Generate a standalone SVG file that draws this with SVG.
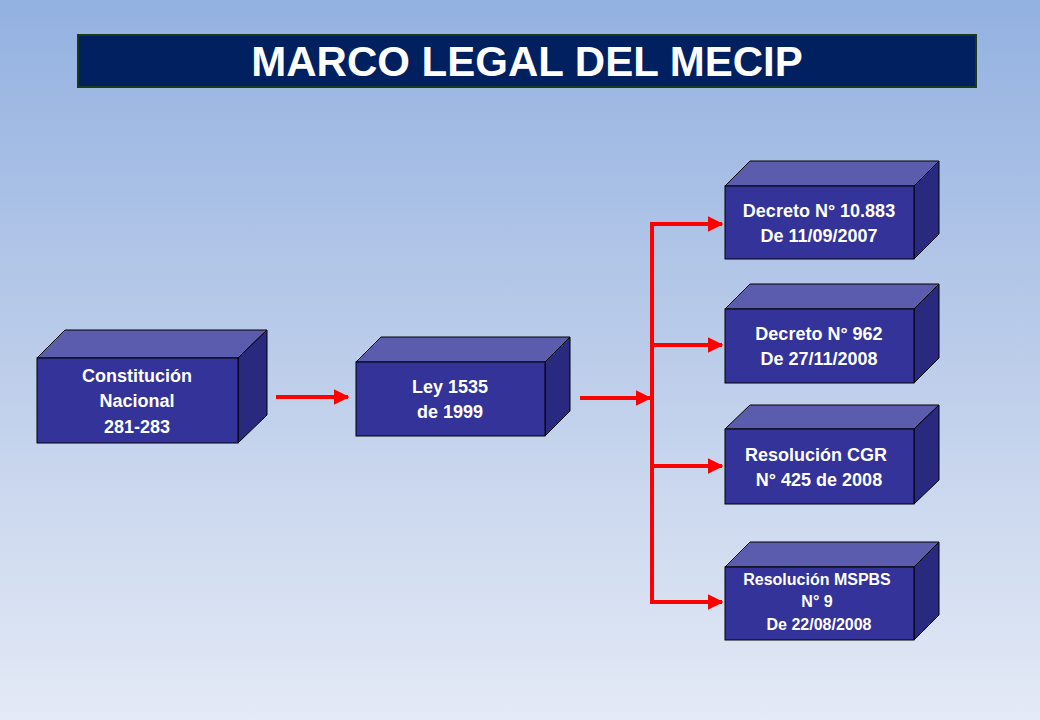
<svg xmlns="http://www.w3.org/2000/svg" width="1040" height="720" viewBox="0 0 1040 720">
<defs>
<linearGradient id="bg" x1="0" y1="0" x2="0" y2="1">
<stop offset="0" stop-color="#93b1e1"/><stop offset="0.5" stop-color="#bccdea"/><stop offset="1" stop-color="#e4eaf6"/>
</linearGradient>
<marker id="ah" viewBox="0 0 10 10" refX="9" refY="5" markerWidth="4" markerHeight="4" orient="auto" markerUnits="strokeWidth">
<path d="M0,0 L10,5 L0,10 Z" fill="#ff0000"/>
</marker>
<style>
.front{fill:#333399;stroke:#000;stroke-width:1}
.top{fill:#5c5cae;stroke:#000;stroke-width:1}
.side{fill:#292980;stroke:#000;stroke-width:1}
.t{font-family:"Liberation Sans",Arial,sans-serif;font-weight:bold;fill:#fff;text-anchor:middle;font-size:18px}
.c{stroke:#ff0000;stroke-width:4;fill:none}
</style>
</defs>
<rect width="1040" height="720" fill="url(#bg)"/>
<g id="title">
<rect x="78" y="35" width="898" height="52" fill="#002060" stroke="#1a3a1a" stroke-width="2"/>
<text x="527" y="76" class="t" font-size="42" style="font-size:42px">MARCO LEGAL DEL MECIP</text>
</g>
<g id="constitucion">
<polygon class="top" points="37,358 65,330 267,330 238,358"/>
<polygon class="side" points="238,358 267,330 267,415 238,443"/>
<rect class="front" x="37" y="358" width="201" height="85"/>
<text class="t" x="137" y="382">Constitución</text>
<text class="t" x="137" y="407">Nacional</text>
<text class="t" x="137" y="433">281-283</text>
</g>
<g id="ley">
<polygon class="top" points="356,362 381,337 570,337 545,362"/>
<polygon class="side" points="545,362 570,337 570,411 545,436"/>
<rect class="front" x="356" y="362" width="189" height="74"/>
<text class="t" x="450" y="393">Ley 1535</text>
<text class="t" x="450" y="418">de 1999</text>
</g>
<g id="decreto10883">
<polygon class="top" points="725,186 750,161 939,161 914,186"/>
<polygon class="side" points="914,186 939,161 939,234 914,259"/>
<rect class="front" x="725" y="186" width="189" height="73"/>
<text class="t" x="819" y="217">Decreto N° 10.883</text>
<text class="t" x="819" y="242">De 11/09/2007</text>
</g>
<g id="decreto962">
<polygon class="top" points="725,309 750,284 939,284 914,309"/>
<polygon class="side" points="914,309 939,284 939,358 914,383"/>
<rect class="front" x="725" y="309" width="189" height="74"/>
<text class="t" x="819" y="340">Decreto N° 962</text>
<text class="t" x="819" y="365">De 27/11/2008</text>
</g>
<g id="resolucioncgr">
<polygon class="top" points="725,429 750,405 939,405 914,429"/>
<polygon class="side" points="914,429 939,405 939,480 914,504"/>
<rect class="front" x="725" y="429" width="189" height="75"/>
<text class="t" x="816" y="461">Resolución CGR</text>
<text class="t" x="819" y="486">N° 425 de 2008</text>
</g>
<g id="resolucionmspbs">
<polygon class="top" points="725,567 750,542 939,542 914,567"/>
<polygon class="side" points="914,567 939,542 939,615 914,640"/>
<rect class="front" x="725" y="567" width="189" height="73"/>
<text class="t" x="817" y="585" style="font-size:16px">Resolución MSPBS</text>
<text class="t" x="817" y="607" style="font-size:16px">N°  9</text>
<text class="t" x="819" y="630" style="font-size:16px">De 22/08/2008</text>
</g>
<g id="connectors">
<line class="c" x1="276" y1="397" x2="348" y2="397" marker-end="url(#ah)"/>
<line class="c" x1="580" y1="398" x2="650" y2="398" marker-end="url(#ah)"/>
<line class="c" x1="652" y1="222" x2="652" y2="604"/>
<line class="c" x1="650" y1="224" x2="722" y2="224" marker-end="url(#ah)"/>
<line class="c" x1="650" y1="345" x2="722" y2="345" marker-end="url(#ah)"/>
<line class="c" x1="650" y1="466" x2="722" y2="466" marker-end="url(#ah)"/>
<line class="c" x1="650" y1="602" x2="722" y2="602" marker-end="url(#ah)"/>
</g>
</svg>
